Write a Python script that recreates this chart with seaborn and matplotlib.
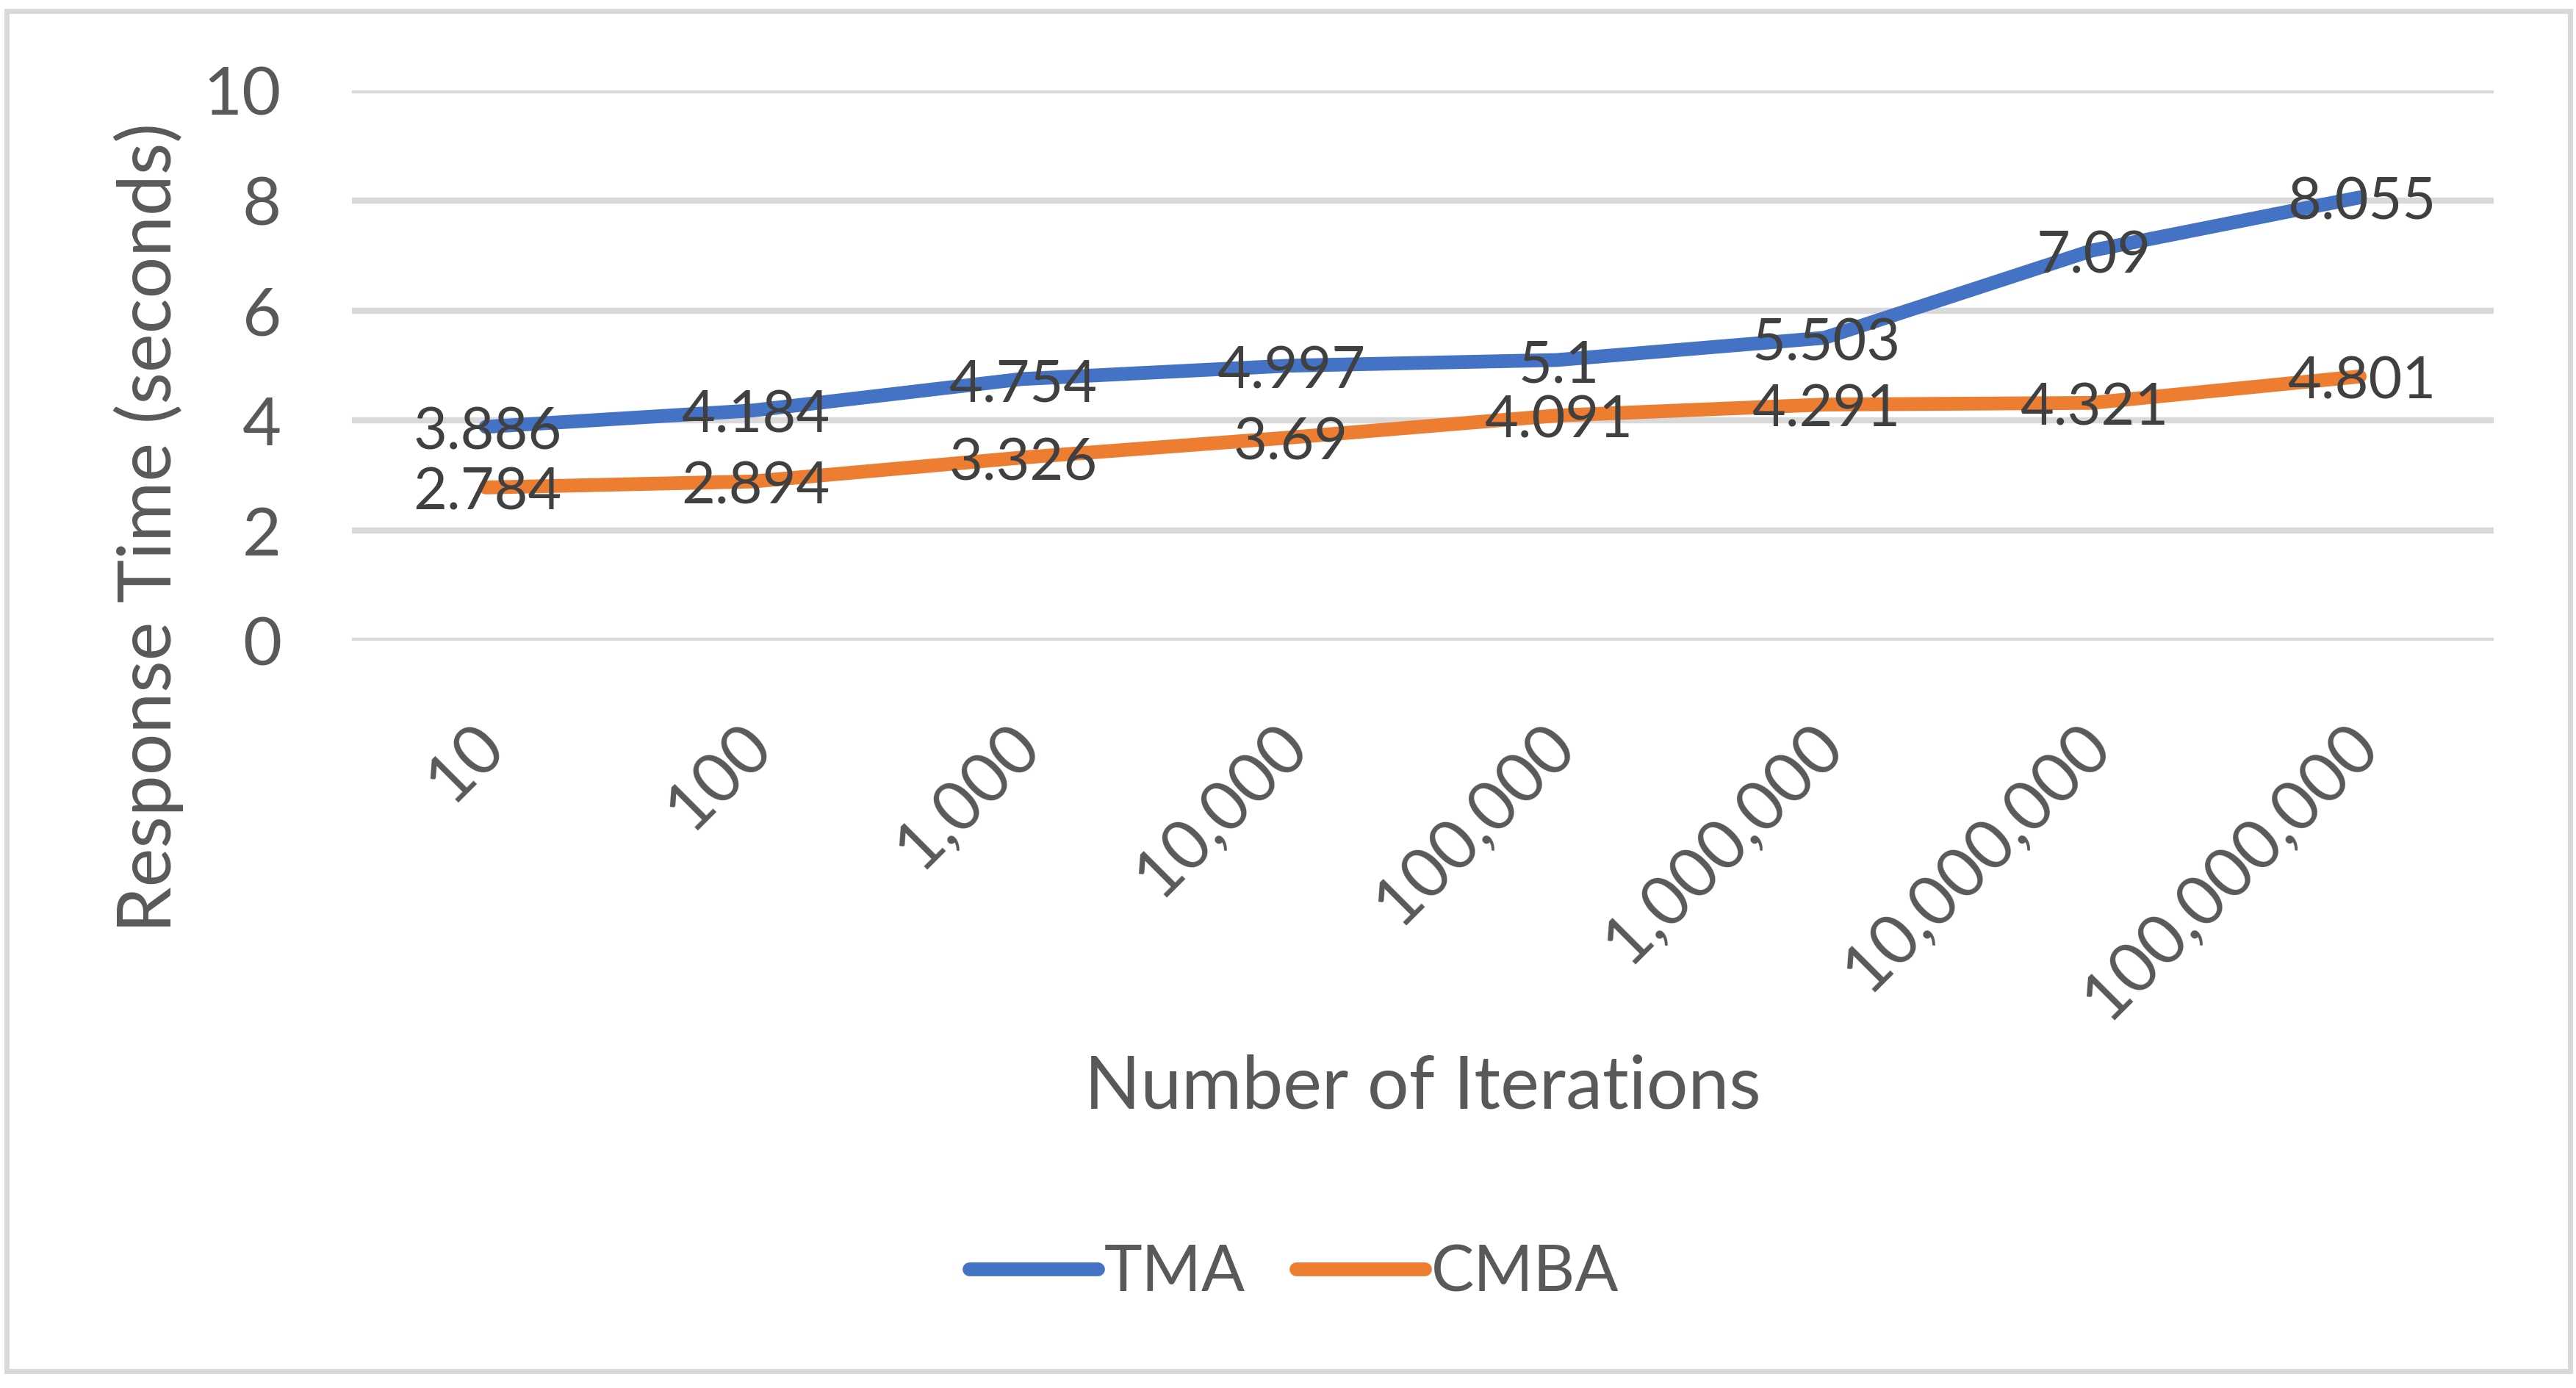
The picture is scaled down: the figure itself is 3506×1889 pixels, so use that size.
import pandas as pd
import matplotlib.pyplot as plt
import matplotlib.transforms as mtransforms
import seaborn as sns
from matplotlib.patches import Rectangle

# Chart data
iterations = ["10", "100", "1,000", "10,000", "100,000", "1,000,000", "10,000,000", "100,000,000"]
tma_times = [3.886, 4.184, 4.754, 4.997, 5.1, 5.503, 7.09, 8.055]
cmba_times = [2.784, 2.894, 3.326, 3.69, 4.091, 4.291, 4.321, 4.801]
series_names = ["TMA", "CMBA"]
y_ticks = [0, 2, 4, 6, 8, 10]

# Long-format dataframe for seaborn
df = pd.DataFrame({
    "pos": list(range(len(iterations))) * 2,
    "time": tma_times + cmba_times,
    "method": [series_names[0]] * len(tma_times) + [series_names[1]] * len(cmba_times),
})

sns.set_style("white")
plt.rcParams["font.family"] = ["Lato", "DejaVu Sans"]

fig = plt.figure(figsize=(35.06, 18.89), dpi=100)
ax = fig.add_axes([0.1366, 0.5384, 0.8314, 0.3965])

# Light grey chart border
fig.patches.append(Rectangle((0.0026, 0.012), 0.9952, 0.980, transform=fig.transFigure,
                             fill=False, edgecolor="#d9d9d9", linewidth=5, zorder=0))

sns.lineplot(data=df, x="pos", y="time", hue="method", palette=["#4472C4", "#ED7D31"],
             linewidth=13.5, sort=False, legend=False, ax=ax)
for line in ax.lines:
    line.set_solid_capstyle("round")
    line.set_solid_joinstyle("round")

# Data labels
for vals in [tma_times, cmba_times]:
    for i, v in enumerate(vals):
        ax.annotate(f"{v:g}", (i, v), xytext=(2, -6), textcoords="offset points",
                    ha="center", va="center", fontsize=57, color="#404040", zorder=5)

ax.set_xlim(-0.5, len(iterations) - 0.5)
ax.set_ylim(0, 10)
ax.set_yticks(y_ticks)
ax.set_xticks(range(len(iterations)))
ax.set_xticklabels(iterations, rotation=45, ha="right", va="top")
ax.tick_params(axis="y", length=0, pad=69, labelsize=66, labelcolor="#595959")
ax.tick_params(axis="x", length=0, pad=71, labelsize=67, labelcolor="#595959")

# nudge rotated labels to the right, like the original
shift = mtransforms.ScaledTranslation(0.40, 0, fig.dpi_scale_trans)
for lbl in ax.get_xticklabels():
    lbl.set_transform(lbl.get_transform() + shift)

ax.grid(axis="y", color="#d9d9d9", linewidth=6)
ax.set_axisbelow(True)
sns.despine(ax=ax, left=True, bottom=True, top=True, right=True)

ax.set_ylabel("Response Time (seconds)", fontsize=72, color="#595959", va="center")
ax.yaxis.set_label_coords(-0.095, 0.206)
ax.set_xlabel("Number of Iterations", fontsize=72, color="#595959", va="center")
ax.xaxis.set_label_coords(0.5, -0.812)

ax.legend(handles=ax.lines[:2], labels=series_names, loc="center",
          bbox_to_anchor=(0.5023, 0.0826), bbox_transform=fig.transFigure,
          ncol=2, frameon=False, fontsize=63, handlelength=2.0,
          handletextpad=0.1, columnspacing=0.8, labelcolor="#595959")

fig.savefig("out.png", dpi=100, facecolor="white")
